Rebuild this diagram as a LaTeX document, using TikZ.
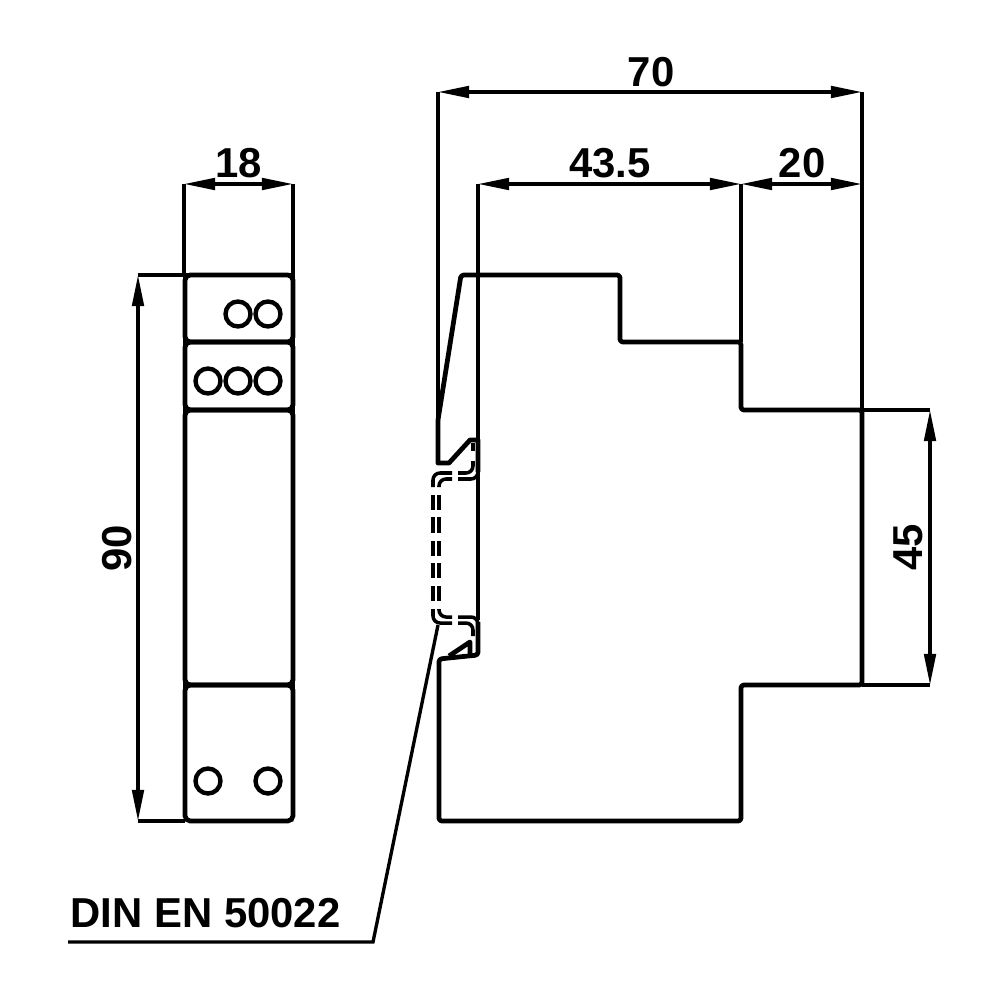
\documentclass[tikz,border=0pt]{standalone}
\usepackage{fontspec}
\setmainfont{Liberation Sans}
\usetikzlibrary{arrows.meta, positioning}
\tikzset{
  outline/.style={line width=1.35pt, rounded corners=0.8pt, line join=round},
  panel/.style={line width=1.35pt, rounded corners=1.5pt},
  thinline/.style={line width=0.95pt},
  dimline/.style={line width=0.95pt, {Triangle[length=0.31cm,width=0.115cm]}-{Triangle[length=0.31cm,width=0.115cm]}},
  railline/.style={line width=1pt, rounded corners=2pt},
  dimtext/.style={font=\fontsize{11.9pt}{14pt}\selectfont\bfseries, inner sep=0pt},
  hole/.style={line width=1.25pt}
}
\begin{document}
\begin{tikzpicture}[x=0.01cm,y=-0.01cm]
\useasboundingbox (0,0) rectangle (1000,1000);
% front view
\draw[panel] (185,275) rectangle (293,342);
\draw[panel] (185,342) rectangle (293,410);
\draw[panel] (185,410) rectangle (293,685);
\draw[panel] (185,685) rectangle (293,821);
\draw[panel, rounded corners=0pt] (185,800) -- (185,275) -- (293,275) -- (293,800);
\foreach \xx/\yy in {238/314,268/314,208/381,238/381,268/381,208/781,268/781}
  \draw[hole] (\xx,\yy) circle (12.5);
% side view
\draw[outline] (438,420) -- (461,275) -- (620,275) -- (620,342) -- (741,342) -- (741,410)
  -- (862,410) -- (862,685) -- (741,685) -- (741,821) -- (439,821) -- (439,659) -- (478,655) -- (478,622);
\draw[outline, rounded corners=0pt] (438,420) -- (438,463) -- (449,463) -- (470,440) -- (478,440) -- (478,472);
\draw[outline, rounded corners=0pt] (449,656) -- (470,642) -- (470,654);
% rail
\draw[railline] (433,487) -- (433,473) -- (452,473);
\draw[railline] (439,487) -- (439,479) -- (452,479);
\draw[railline] (458,473) -- (473,473) -- (473,461);
\draw[railline] (458,479) -- (478,479) -- (478,472);
\draw[railline] (473,451) -- (473,443);
\foreach \yy/\zz in {495/510,517/533,541/556,563/578,586/601}{
  \draw[railline] (433,\yy) -- (433,\zz);
  \draw[railline] (439,\yy) -- (439,\zz);
}
\draw[railline] (433,609) -- (433,623) -- (452,623);
\draw[railline] (439,609) -- (439,617) -- (452,617);
\draw[railline] (458,623) -- (473,623) -- (473,636);
\draw[railline] (458,617) -- (478,617) -- (478,624);
% extension lines
\draw[thinline] (184,184) -- (184,275);
\draw[thinline] (293,184) -- (293,275);
\draw[thinline] (138,275) -- (185,275);
\draw[thinline] (138,821) -- (185,821);
\draw[thinline] (438,92) -- (438,420);
\draw[thinline] (862,92) -- (862,410);
\draw[thinline] (478,184) -- (478,620);
\draw[thinline] (741,184) -- (741,342);
\draw[thinline] (862,410) -- (930,410);
\draw[thinline] (862,685) -- (930,685);
% dimensions
\draw[dimline] (184,184) -- (293,184);
\draw[dimline] (138,275) -- (138,821);
\draw[dimline] (438,92) -- (862,92);
\draw[dimline] (478,184) -- (741,184);
\draw[dimline] (741,184) -- (862,184);
\draw[dimline] (930,410) -- (930,685);
\node[dimtext] (wfront) at (239,163) {18};
\node[dimtext, rotate=90] (hfront) at (117,548) {90};
\node[dimtext] (wtotal) at (651,72) {70};
\node[dimtext] (wbody) at (610,163) {43.5};
\node[dimtext] (wstep) at (802,163) {20};
\node[dimtext, rotate=90] (hrail) at (908,547) {45};
% rail label
\node[dimtext, anchor=west] (raillabel) at (70,913) {DIN EN 50022};
\coordinate (leaderend) at (68,942);
\coordinate (railpoint) at (438,625);
\draw[thinline] (leaderend) -- (373,942) -- (railpoint);
\end{tikzpicture}
\end{document}
